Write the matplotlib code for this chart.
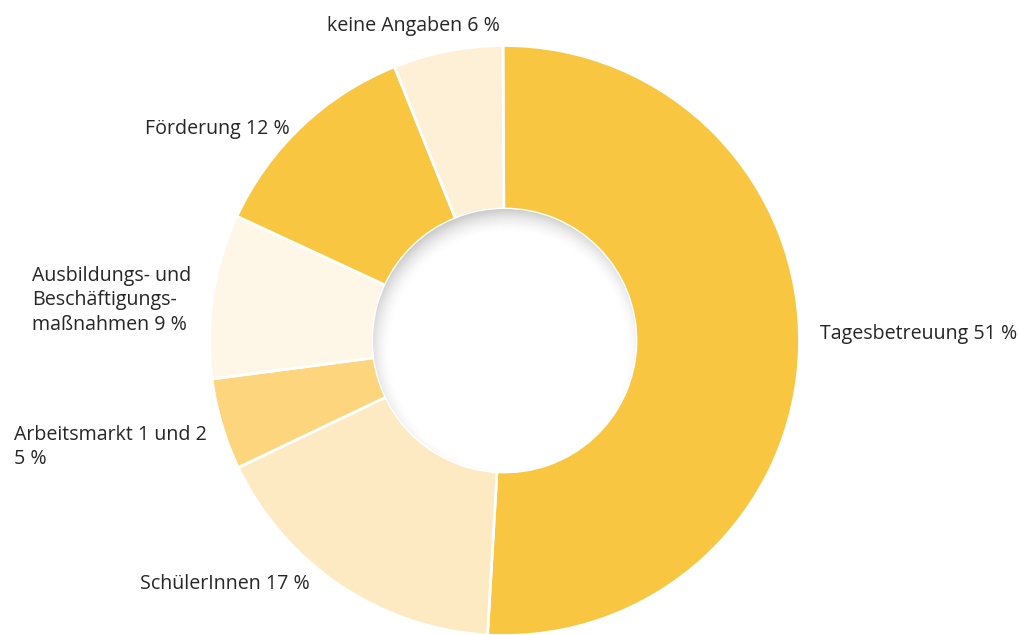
import matplotlib
matplotlib.use("Agg")
import matplotlib.pyplot as plt
import numpy as np
from matplotlib.patches import Circle

categories = ["Tagesbetreuung", "SchülerInnen", "Arbeitsmarkt 1 und 2",
              "Ausbildungs- und Beschäftigungsmaßnahmen", "Förderung", "keine Angaben"]
values = [51, 17, 5, 9, 12, 6]
labels = ["Tagesbetreuung 51 %", "SchülerInnen 17 %", "Arbeitsmarkt 1 und 2\n5 %",
          "Ausbildungs- und\nBeschäftigungs-\nmaßnahmen 9 %", "Förderung 12 %", "keine Angaben 6 %"]
colors = ["#F9C642", "#FDE9C2", "#FCD57C", "#FEF6E7", "#F9C642", "#FEF0D6"]

W, H = 1020, 635
fig = plt.figure(figsize=(W / 100, H / 100), dpi=100)
ax = fig.add_axes([0, 0, 1, 1])

cx, cy = 504.5, H - 340.5
R, r = 295, 131.5

ax.pie(values, colors=colors, startangle=90.3, counterclock=False,
       center=(cx, cy), radius=R, frame=True,
       wedgeprops=dict(edgecolor="white", linewidth=2, width=R - r))
ax.set_xlim(0, W)
ax.set_ylim(0, H)
ax.set_aspect("equal")
ax.axis("off")

# inner hole with inner shadow
hole = Circle((cx, cy), r + 0.5, facecolor="white", edgecolor="none", zorder=3)
ax.add_patch(hole)
n = 500
xs = np.linspace(cx - r, cx + r, n)
ys = np.linspace(cy - r, cy + r, n)
X, Y = np.meshgrid(xs, ys)
ox, oy = 4, -10
d = np.hypot(X - (cx + ox), Y - (cy + oy))
w = 14
s = np.clip((d - (r - w)) / (w + 10), 0, 1) ** 1.8
img = np.zeros((n, n, 4))
img[..., 0:3] = 0.6
img[..., 3] = s * 0.5
im = ax.imshow(img, extent=(cx - r, cx + r, cy - r, cy + r), origin="lower",
               zorder=4, interpolation="bilinear")
clip = Circle((cx, cy), r, transform=ax.transData)
im.set_clip_path(clip)
ax.set_xlim(0, W)
ax.set_ylim(0, H)

font = dict(family=["Open Sans", "DejaVu Sans"], fontsize=14.1, color="#262626",
            linespacing=1.3)
pos = {
    0: (820, 334, "left"),
    1: (140, 584, "left"),
    2: (14, 447, "left"),
    3: (32, 300, "left"),
    4: (145, 129, "left"),
    5: (327, 26, "left"),
}
for i, lab in enumerate(labels):
    x, y, ha = pos[i]
    ax.text(x, H - y, lab, ha=ha, va="center", **font)

fig.savefig("out.png", dpi=100)
